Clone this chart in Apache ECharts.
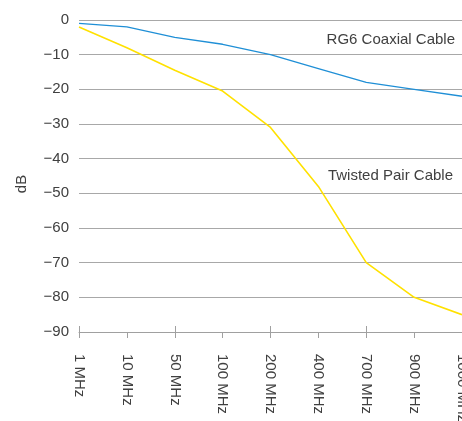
<!DOCTYPE html>
<html>
<head>
<meta charset="utf-8">
<script src="https://cdn.jsdelivr.net/npm/echarts@6/dist/echarts.min.js"></script>
<style>
  html, body { margin: 0; padding: 0; background: #fff; }
  #chart { width: 462px; height: 421px; }
</style>
</head>
<body>
<div id="chart"></div>
<script>
const frequencies = ["1 MHz", "10 MHz", "50 MHz", "100 MHz", "200 MHz", "400 MHz", "700 MHz", "900 MHz", "1000 MHz"];
const coaxialDb = [-1, -2, -5, -7, -10, -14, -18, -20, -22];
const twistedPairDb = [-2, -8, -14.5, -20.5, -31, -48, -70, -80, -85];

const textColor = "#404040";
const fontFamily = "'Liberation Sans', Arial, sans-serif";
const chart = echarts.init(document.getElementById("chart"), null, { renderer: "canvas" });

// grid height, used to drop the second (tick-only) axis onto the bottom line
const gridTop = 20;
const gridBottom = 89;
const gridHeight = 421 - gridTop - gridBottom;

chart.setOption({
  animation: false,
  grid: { left: 79, right: 0, top: gridTop, bottom: gridBottom, outerBoundsMode: "none", containLabel: false },
  xAxis: [
    {
      type: "category",
      data: frequencies,
      boundaryGap: false,
      position: "bottom",
      axisLine: { onZero: false, lineStyle: { color: "#a0a0a0", width: 1 } },
      axisTick: { show: true, length: 6, lineStyle: { color: "#a0a0a0" } },
      axisLabel: {
        rotate: -90,
        margin: 22,
        color: textColor,
        fontSize: 15,
        fontFamily: fontFamily,
        interval: 0,
      },
    },
    {
      type: "category",
      data: frequencies,
      boundaryGap: false,
      position: "top",
      offset: -gridHeight,
      axisLine: { show: false, onZero: false },
      axisTick: { show: true, length: 6, lineStyle: { color: "#a0a0a0" } },
      axisLabel: { show: false },
    },
  ],
  yAxis: {
    type: "value",
    min: -90,
    max: 0,
    interval: 10,
    name: "dB",
    nameLocation: "middle",
    nameGap: 50,
    nameRotate: 90,
    nameTextStyle: { color: textColor, fontSize: 15, fontFamily: fontFamily, padding: [0, 0, 0, -16] },
    axisLine: { show: false },
    axisTick: { show: false },
    axisLabel: {
      color: textColor,
      fontSize: 15,
      fontFamily: fontFamily,
      margin: 10,
      formatter: (v) => (v < 0 ? "\u2212" + Math.abs(v) : String(v)),
    },
    splitLine: { lineStyle: { color: "#a8a8a8", width: 1 } },
  },
  series: [
    {
      name: "RG6 Coaxial Cable",
      type: "line",
      data: coaxialDb,
      symbol: "none",
      lineStyle: { color: "#1f8fd6", width: 1.3 },
      itemStyle: { color: "#1f8fd6" },
    },
    {
      name: "Twisted Pair Cable",
      type: "line",
      data: twistedPairDb,
      symbol: "none",
      lineStyle: { color: "#ffe100", width: 1.6 },
      itemStyle: { color: "#ffe100" },
    },
  ],
  graphic: [
    {
      type: "text",
      right: 7,
      top: 32,
      style: { text: "RG6 Coaxial Cable", fill: textColor, fontSize: 15, fontFamily: fontFamily },
    },
    {
      type: "text",
      right: 9,
      top: 168,
      style: { text: "Twisted Pair Cable", fill: textColor, fontSize: 15, fontFamily: fontFamily },
    },
  ],
});
</script>
</body>
</html>
